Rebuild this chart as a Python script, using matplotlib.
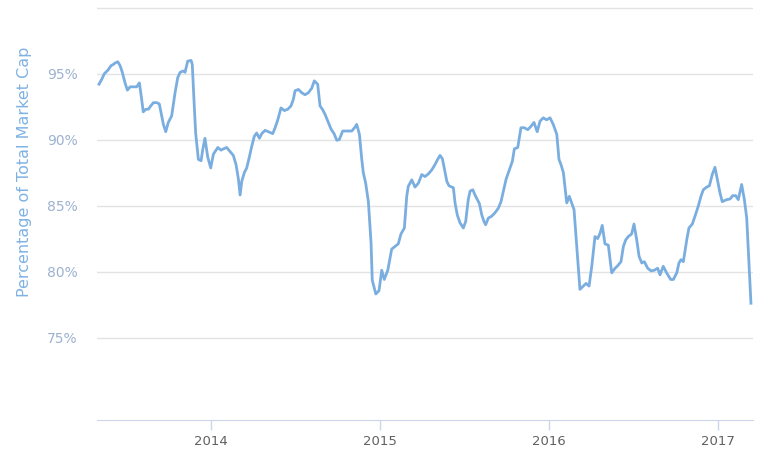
import numpy as np
import matplotlib.pyplot as plt

# time as decimal years, values as % of total market cap
years = [
    2013.337, 2013.353, 2013.369, 2013.389, 2013.408, 2013.422, 2013.432, 2013.448,
    2013.462, 2013.475, 2013.491, 2013.505, 2013.521, 2013.540, 2013.560, 2013.576,
    2013.590, 2013.599, 2013.614, 2013.629, 2013.643, 2013.659, 2013.679, 2013.694,
    2013.708, 2013.718, 2013.732, 2013.747, 2013.767, 2013.777, 2013.787, 2013.803,
    2013.817, 2013.836, 2013.846, 2013.862, 2013.882, 2013.889, 2013.899, 2013.909,
    2013.925, 2013.941, 2013.951, 2013.964, 2013.980, 2013.998, 2014.014, 2014.040,
    2014.059, 2014.073, 2014.093, 2014.112, 2014.132, 2014.148, 2014.162, 2014.172,
    2014.182, 2014.197, 2014.211, 2014.227, 2014.241, 2014.256, 2014.270, 2014.286,
    2014.300, 2014.320, 2014.339, 2014.365, 2014.379, 2014.395, 2014.414, 2014.434,
    2014.454, 2014.473, 2014.487, 2014.497, 2014.517, 2014.537, 2014.556, 2014.576,
    2014.596, 2014.611, 2014.631, 2014.645, 2014.659, 2014.675, 2014.694, 2014.710,
    2014.728, 2014.744, 2014.759, 2014.779, 2014.803, 2014.833, 2014.852, 2014.862,
    2014.878, 2014.892, 2014.901, 2014.915, 2014.931, 2014.947, 2014.954, 2014.975,
    2014.994, 2015.010, 2015.025, 2015.046, 2015.069, 2015.089, 2015.108, 2015.124,
    2015.144, 2015.158, 2015.167, 2015.188, 2015.207, 2015.227, 2015.247, 2015.266,
    2015.286, 2015.306, 2015.325, 2015.341, 2015.355, 2015.369, 2015.380, 2015.395,
    2015.408, 2015.434, 2015.444, 2015.457, 2015.473, 2015.493, 2015.507, 2015.522,
    2015.533, 2015.549, 2015.562, 2015.576, 2015.588, 2015.602, 2015.615, 2015.625,
    2015.641, 2015.661, 2015.680, 2015.700, 2015.716, 2015.730, 2015.746, 2015.765,
    2015.783, 2015.795, 2015.815, 2015.834, 2015.854, 2015.874, 2015.893, 2015.911,
    2015.930, 2015.947, 2015.966, 2015.986, 2016.006, 2016.025, 2016.046, 2016.059,
    2016.071, 2016.085, 2016.105, 2016.120, 2016.134, 2016.148, 2016.164, 2016.183,
    2016.203, 2016.219, 2016.237, 2016.253, 2016.272, 2016.288, 2016.302, 2016.315,
    2016.331, 2016.351, 2016.371, 2016.391, 2016.407, 2016.426, 2016.440, 2016.454,
    2016.469, 2016.489, 2016.503, 2016.519, 2016.533, 2016.549, 2016.564, 2016.584,
    2016.604, 2016.623, 2016.643, 2016.657, 2016.676, 2016.696, 2016.720, 2016.736,
    2016.756, 2016.769, 2016.781, 2016.795, 2016.815, 2016.828, 2016.848, 2016.864,
    2016.883, 2016.899, 2016.913, 2016.933, 2016.949, 2016.966, 2016.982, 2016.998,
    2017.012, 2017.025, 2017.051, 2017.071, 2017.087, 2017.105, 2017.120, 2017.140,
    2017.156, 2017.170, 2017.195,
]
share = [
    94.2, 94.57, 95.0, 95.25, 95.6, 95.7, 95.8, 95.9,
    95.6, 95.1, 94.3, 93.75, 94.0, 94.0, 94.0, 94.3,
    93.0, 92.1, 92.3, 92.3, 92.55, 92.8, 92.8, 92.7,
    91.8, 91.15, 90.6, 91.3, 91.8, 92.7, 93.55, 94.7,
    95.1, 95.2, 95.1, 95.95, 96.0, 95.7, 93.0, 90.5,
    88.5, 88.4, 89.25, 90.1, 88.7, 87.85, 88.9, 89.4,
    89.2, 89.3, 89.4, 89.1, 88.8, 88.1, 87.0, 85.8,
    86.85, 87.5, 87.85, 88.7, 89.5, 90.25, 90.5, 90.1,
    90.45, 90.7, 90.6, 90.45, 90.9, 91.5, 92.4, 92.2,
    92.3, 92.55, 93.05, 93.7, 93.8, 93.55, 93.4, 93.55,
    93.9, 94.45, 94.2, 92.55, 92.3, 91.9, 91.3, 90.8,
    90.45, 89.95, 90.0, 90.65, 90.65, 90.65, 90.95, 91.15,
    90.4, 88.5, 87.5, 86.7, 85.3, 82.15, 79.35, 78.3,
    78.55, 80.1, 79.4, 80.1, 81.7, 81.9, 82.1, 82.85,
    83.3, 85.7, 86.45, 86.95, 86.4, 86.7, 87.35, 87.2,
    87.4, 87.7, 88.1, 88.5, 88.8, 88.55, 87.85, 86.85,
    86.5, 86.35, 85.2, 84.3, 83.7, 83.3, 83.8, 85.45,
    86.1, 86.2, 85.8, 85.45, 85.15, 84.3, 83.8, 83.55,
    84.05, 84.2, 84.45, 84.8, 85.3, 86.1, 87.0, 87.7,
    88.35, 89.3, 89.4, 90.9, 90.9, 90.75, 91.0, 91.3,
    90.6, 91.4, 91.65, 91.5, 91.65, 91.15, 90.4, 88.5,
    88.1, 87.5, 85.2, 85.7, 85.2, 84.7, 81.9, 78.65,
    78.9, 79.1, 78.9, 80.4, 82.65, 82.5, 82.9, 83.5,
    82.1, 82.0, 79.9, 80.25, 80.45, 80.75, 81.9, 82.4,
    82.65, 82.85, 83.6, 82.4, 81.15, 80.65, 80.75, 80.25,
    80.05, 80.1, 80.25, 79.75, 80.4, 79.9, 79.4, 79.4,
    79.9, 80.65, 80.9, 80.75, 82.4, 83.3, 83.6, 84.2,
    84.95, 85.7, 86.2, 86.4, 86.5, 87.35, 87.9, 86.85,
    85.95, 85.3, 85.45, 85.5, 85.75, 85.75, 85.45, 86.6,
    85.45, 84.05, 77.6,
]
yticks = [75, 80, 85, 90, 95]
xticks = [2014, 2015, 2016, 2017]

fig = plt.figure(figsize=(7.66, 4.54), dpi=100)
ax = fig.add_axes([0.1266, 0.0749, 0.8564, 0.9097])

ax.plot(years, share, color='#7aaee0', lw=2.0, solid_joinstyle='round')

ax.set_xlim(2013.325, 2017.207)
ax.set_ylim(68.75, 100.05)

for v in yticks + [100]:
    ax.axhline(v, color='#e3e3e3', lw=1.0, zorder=0)

ax.set_yticks(yticks)
ax.set_yticklabels([f'{v}%' for v in yticks])
ax.set_xticks(xticks)
ax.set_xticklabels([str(v) for v in xticks])

ax.tick_params(axis='y', length=0, pad=14, labelsize=10, labelcolor='#9db2cf')
ax.tick_params(axis='x', length=7, width=1, color='#ccd6eb', pad=4,
               labelsize=9.5, labelcolor='#606060')

for side in ['top', 'right', 'left']:
    ax.spines[side].set_visible(False)
ax.spines['bottom'].set_color('#ccd6eb')

fig.text(25 / 766, 1 - 172 / 454, 'Percentage of Total Market Cap',
         rotation=90, ha='center', va='center', fontsize=11.5,
         color='#7fb2e3', fontweight='medium')

fig.savefig('out.png', dpi=100)
